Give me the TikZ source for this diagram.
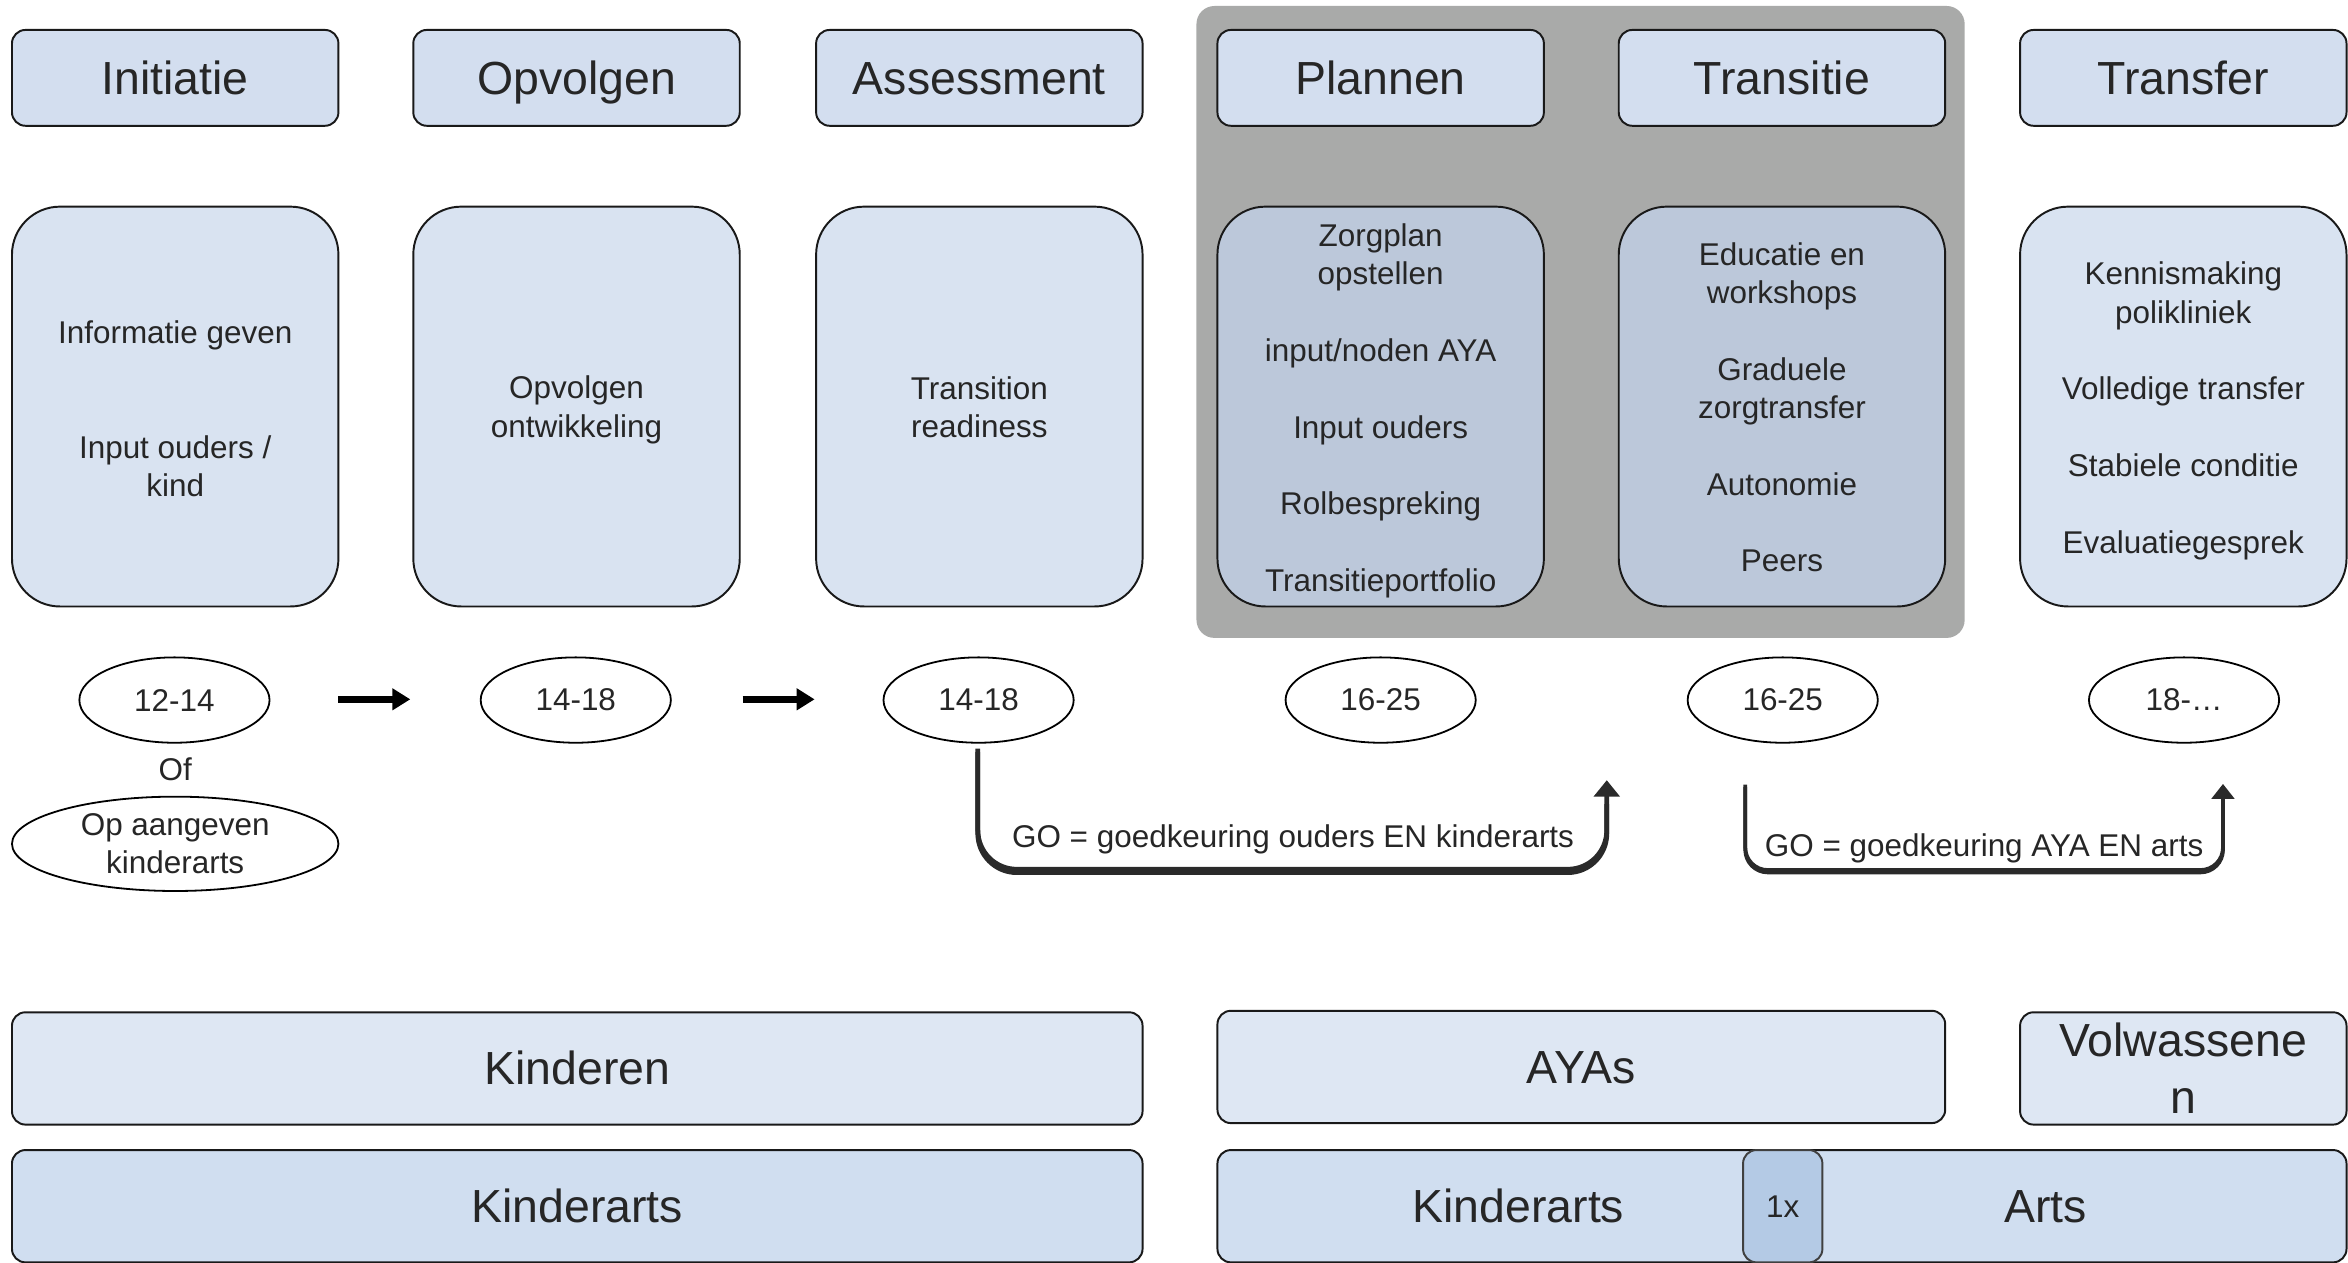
\documentclass[tikz,border=0pt]{standalone}
\usepackage{fontspec}
\setmainfont{Liberation Sans}
\usetikzlibrary{arrows.meta,shapes.geometric}
\definecolor{txt}{HTML}{262626}
\definecolor{hdrfill}{HTML}{D3DEEF}
\definecolor{cfill}{HTML}{D9E3F1}
\definecolor{cdark}{HTML}{BCC8DA}
\definecolor{bgray}{HTML}{A9AAA9}
\definecolor{rowa}{HTML}{DEE7F3}
\definecolor{rowb}{HTML}{D0DEF0}
\definecolor{onex}{HTML}{B4CAE5}
\definecolor{goline}{HTML}{2A2A2A}
\begin{document}
\begin{tikzpicture}[x=1pt,y=-1pt,
  hdr/.style={draw=black!90,line width=1.3pt,rounded corners=9pt,fill=hdrfill,minimum width=218pt,minimum height=64pt,inner sep=0pt,font=\fontsize{31}{37}\selectfont,text=txt,text height=28pt,text depth=6pt},
  cbox/.style={draw=black!90,line width=1.3pt,rounded corners=32pt,fill=cfill,minimum width=218pt,minimum height=267pt,inner sep=0pt},
  ctext/.style={align=center,font=\fontsize{21}{25.6}\selectfont,text=txt,inner sep=0pt},
  age/.style={ellipse,draw=black,line width=1.2pt,fill=white,minimum width=127pt,minimum height=57pt,inner sep=0pt,align=center,font=\fontsize{21}{25}\selectfont,text=txt},
  bar/.style={draw=black!90,line width=1.3pt,rounded corners=9pt,minimum height=75pt,inner sep=0pt,align=center,font=\fontsize{31}{38}\selectfont,text=txt},
  fixtxt/.style={text height=28pt,text depth=6pt},
  steparrow/.style={line width=5pt,-{Triangle[length=12pt,width=14pt]},draw=black},
  golbl/.style={font=\fontsize{21}{25}\selectfont,text=txt,inner sep=0pt},
  goone/.style={draw=goline,line width=3.2pt,rounded corners=26pt,-{Triangle[length=11pt,width=17pt]}},
  goonesh/.style={draw=goline,line width=3.2pt,rounded corners=26pt},
  gotwo/.style={draw=goline,line width=2.5pt,rounded corners=15pt,-{Triangle[length=10pt,width=15pt]}},
  gotwosh/.style={draw=goline,line width=2.5pt,rounded corners=15pt}
]
\useasboundingbox (0,0) rectangle (1568,843);

% gray background panel
\node[fill=bgray,rounded corners=12pt,minimum width=513pt,minimum height=422pt,inner sep=0pt] (panel) at (1055.5,215) {};

% headers
\node[hdr] (h1) at (117,52) {Initiatie};
\node[hdr] (h2) at (385,52) {Opvolgen};
\node[hdr] (h3) at (654,52) {Assessment};
\node[hdr] (h4) at (922,52) {Plannen};
\node[hdr] (h5) at (1190,52) {Transitie};
\node[hdr] (h6) at (1458,52) {Transfer};

% content boxes
\node[cbox] (c1) at (117,271.5) {};
\node[cbox] (c2) at (385,271.5) {};
\node[cbox] (c3) at (654,271.5) {};
\node[cbox,fill=cdark] (c4) at (922,271.5) {};
\node[cbox,fill=cdark] (c5) at (1190,271.5) {};
\node[cbox] (c6) at (1458,271.5) {};
\node[ctext] (t1) at (117,272.8) {Informatie geven\\[51.2pt]Input ouders /\\kind};
\node[ctext] (t2) at (385,273.8) {Opvolgen\\ontwikkeling};
\node[ctext] (t3) at (654,271.8) {Transition\\readiness};
\node[ctext] (t4) at (922,274.3) {Zorgplan\\opstellen\\[25.6pt]input/noden AYA\\[25.6pt]Input ouders\\[25.6pt]Rolbespreking\\[25.6pt]Transitieportfolio};
\node[ctext] (t5) at (1190,272) {Educatie en\\workshops\\[25.6pt]Graduele\\zorgtransfer\\[25.6pt]Autonomie\\[25.6pt]Peers};
\node[ctext] (t6) at (1458,274.3) {Kennismaking\\polikliniek\\[25.6pt]Volledige transfer\\[25.6pt]Stabiele conditie\\[25.6pt]Evaluatiegesprek};

% age ellipses
\node[age] (e1) at (116.5,467.5) {12-14};
\node[age] (e2) at (384.5,467.5) {14-18};
\node[age] (e3) at (653.5,467.5) {14-18};
\node[age] (e4) at (922,467.5) {16-25};
\node[age] (e5) at (1190.5,467.5) {16-25};
\node[age] (e6) at (1458.5,467.5) {18-\dots};
\node[golbl] (of) at (117,514) {Of};
\node[age,minimum width=218pt,minimum height=63pt] (e7) at (117,563.5) {Op aangeven\\kinderarts};

% step arrows
\coordinate (a1s) at (226,467);
\coordinate (a1e) at (274,467);
\coordinate (a2s) at (496,467);
\coordinate (a2e) at (544,467);
\draw[steparrow] (a1s) -- (a1e);
\draw[steparrow] (a2s) -- (a2e);

% GO connector 1
\coordinate (g1a) at (653,500);
\coordinate (g1l) at (653,580.5);
\coordinate (g1r) at (1073,580.5);
\coordinate (g1e) at (1073,521);
\draw[goonesh] ([yshift=-2.2pt]g1a) -- ([yshift=-2.2pt]g1l) -- ([yshift=-2.2pt]g1r) -- ([yshift=-16pt]g1e);
\draw[goone] (g1a) -- (g1l) -- (g1r) -- (g1e);
\node[golbl] (go1) at (863.5,560.5) {GO = goedkeuring ouders EN kinderarts};

% GO connector 2
\coordinate (g2a) at (1165.5,524);
\coordinate (g2l) at (1165.5,581);
\coordinate (g2r) at (1484.5,581);
\coordinate (g2e) at (1484.5,523.5);
\draw[gotwosh] ([yshift=-1.6pt]g2a) -- ([yshift=-1.6pt]g2l) -- ([yshift=-1.6pt]g2r) -- ([yshift=-14pt]g2e);
\draw[gotwo] (g2a) -- (g2l) -- (g2r) -- (g2e);
\node[golbl] (go2) at (1325,566.5) {GO = goedkeuring AYA EN arts};

% bottom bars
\node[bar,fixtxt,fill=rowa,minimum width=755pt] (kinderen) at (385.5,713.5) {Kinderen};
\node[bar,fixtxt,fill=rowa,minimum width=486pt] (ayas) at (1056,712.5) {AYAs};
\node[bar,fill=rowa,minimum width=218pt] (volw) at (1458,713.5) {Volwassene\\n};
\node[bar,fixtxt,fill=rowb,minimum width=755pt] (karts1) at (385.5,805.5) {Kinderarts};
\node[bar,fixtxt,fill=rowb,minimum width=402pt] (karts2) at (1014,805.5) {Kinderarts};
\node[bar,fixtxt,fill=rowb,minimum width=402pt] (arts) at (1366,805.5) {Arts};
\node[bar,fill=onex,draw=black!75,minimum width=53pt,font=\fontsize{21}{25}\selectfont] (once) at (1190.5,805.5) {1x};
\end{tikzpicture}
\end{document}
